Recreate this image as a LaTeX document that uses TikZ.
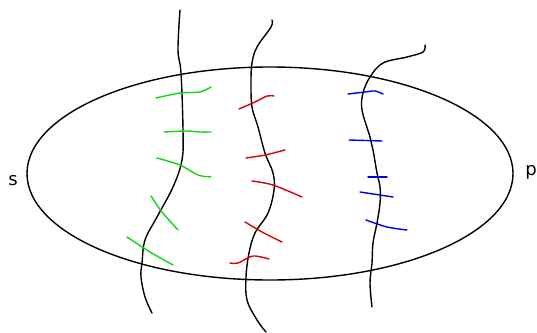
\documentclass[tikz,border=0pt]{standalone}
\usepackage{fontspec}
\setmainfont{DejaVu Sans}
\begin{document}
\begin{tikzpicture}[x=1pt,y=-1pt,
  strand/.style={black,line width=1.4pt,line cap=round},
  gtick/.style={draw=gcol,line width=1.4pt,line cap=round},
  rtick/.style={draw=rcol,line width=1.4pt,line cap=round},
  btick/.style={draw=bcol,line width=1.4pt,line cap=round},
  lab/.style={font=\fontsize{18}{21}\selectfont,inner sep=0pt,anchor=base}]
\definecolor{gcol}{RGB}{20,210,20}
\definecolor{rcol}{RGB}{220,0,0}
\definecolor{bcol}{RGB}{0,0,225}
\useasboundingbox (0,0) rectangle (537,332);
% ellipse
\draw[black,line width=1.4pt] (270,173.5) ellipse [x radius=243, y radius=106.5];
% labels
\node[lab] (s) at (13,185) {s};
\node[lab] (p) at (531,175) {p};
% strands
\draw[strand] plot[smooth,tension=0.6] coordinates {(180,10) (178,50) (181,73) (183,130) (182,160) (173,187) (157,217) (145,240) (142,263) (141,277) (145,297) (152,313)};
\draw[strand] plot[smooth,tension=0.6] coordinates {(272,20) (271,27) (257,47) (252,63) (251,83) (252,107) (258,127) (265,153) (273,173) (274,190) (268,213) (255,233) (249,253) (246,277) (247,300) (257,320) (266,332)};
\draw[strand] plot[smooth,tension=0.6] coordinates {(425,45) (423,52) (407,57) (383,63) (370,77) (363,93) (362,110) (370,137) (373,150) (377,173) (380,187) (380,203) (377,223) (373,243) (372,263) (370,283) (372,307)};
% green ticks
\draw[gtick] plot[smooth] coordinates {(156,98) (180,93) (200,92) (211,87)};
\draw[gtick] plot[smooth] coordinates {(164,132) (187,131) (200,132) (211,132)};
\draw[gtick] plot[smooth] coordinates {(157,158) (180,165) (198,175) (211,177)};
\draw[gtick] plot[smooth] coordinates {(151,196) (162,212) (178,230)};
\draw[gtick] plot[smooth] coordinates {(127,237) (150,252) (173,265)};
% red ticks
\draw[rtick] plot[smooth] coordinates {(239,109) (255,102) (267,96) (274,96)};
\draw[rtick] plot[smooth] coordinates {(246,158) (265,155) (285,150)};
\draw[rtick] plot[smooth] coordinates {(252,181) (273,185) (302,197)};
\draw[rtick] plot[smooth] coordinates {(245,222) (262,232) (282,242)};
\draw[rtick] plot[smooth] coordinates {(230,263) (238,263) (253,256) (269,259)};
% blue ticks
\draw[btick] plot[smooth] coordinates {(348,94) (365,92) (375,91) (383,94)};
\draw[btick] (349,140) -- (382,141);
\draw[btick] (368,177) -- (387,177);
\draw[btick] (360,192) -- (393,197);
\draw[btick] plot[smooth] coordinates {(366,220) (387,227) (407,230)};
\end{tikzpicture}
\end{document}
